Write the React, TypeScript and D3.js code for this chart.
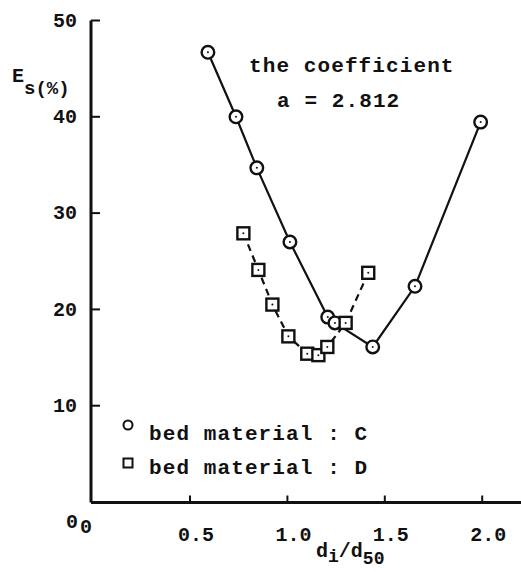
import React from "react";
import * as d3 from "d3";

const seriesCx = [0.592, 0.736, 0.843, 1.013, 1.207, 1.244, 1.438, 1.655, 1.992];
const seriesCy = [46.7, 40.0, 34.7, 27.0, 19.2, 18.6, 16.1, 22.4, 39.45];
const seriesDx = [0.774, 0.851, 0.923, 1.005, 1.102, 1.159, 1.205, 1.299, 1.415];
const seriesDy = [27.9, 24.1, 20.5, 17.2, 15.4, 15.25, 16.1, 18.6, 23.8];
const xTicks = [0.5, 1.0, 1.5, 2.0];
const xTickLabels = ["0.5", "1.0", "1.5", "2.0"];
const yTicks = [10, 20, 30, 40, 50];
const yTickLabels = ["10", "20", "30", "40", "50"];
const legendLabels = ["bed material : C", "bed material : D"];
const noteLines = ["the coefficient", "a = 2.812"];

const FONT = "'Liberation Mono', 'DejaVu Sans Mono', monospace";

export default function App() {
  const x = d3.scaleLinear().domain([0, 2]).range([92.6, 482.2]);
  const y = d3.scaleLinear().domain([0, 50]).range([502, 20.5]);
  const ptsC: [number, number][] = seriesCx.map((v, i) => [x(v), y(seriesCy[i])]);
  const ptsD: [number, number][] = seriesDx.map((v, i) => [x(v), y(seriesDy[i])]);
  const line = d3.line();
  const ax = 91;
  const ay = 502.5;
  const textStyle = { fontFamily: FONT, fontWeight: 700 as const, fill: "#111" };

  return (
    <div style={{ position: "absolute", left: 0, top: 0 }}>
      <svg width={521} height={572} style={{ display: "block", background: "#fff" }}>
        {/* axes */}
        <line x1={ax} y1={ay} x2={521} y2={ay} stroke="#111" strokeWidth={3} />
        <line x1={ax} y1={ay} x2={ax} y2={y(50)} stroke="#111" strokeWidth={3} />
        {yTicks.map((t, i) => (
          <g key={"yt" + i}>
            <line x1={ax} x2={ax + 9} y1={y(t)} y2={y(t)} stroke="#111" strokeWidth={2} />
            <text x={77} y={y(t) + 1} textAnchor="end" dominantBaseline="middle" fontSize={20} {...textStyle}>
              {yTickLabels[i]}
            </text>
          </g>
        ))}
        {xTicks.map((t, i) => (
          <g key={"xt" + i}>
            <line x1={x(t)} x2={x(t)} y1={ay} y2={ay - 7} stroke="#111" strokeWidth={2} />
            <text x={x(t) + 6} y={541} textAnchor="middle" fontSize={20} {...textStyle}>
              {xTickLabels[i]}
            </text>
          </g>
        ))}
        <text x={72} y={528} textAnchor="middle" fontSize={20} {...textStyle}>0</text>
        <text x={86} y={533} textAnchor="middle" fontSize={20} {...textStyle}>0</text>

        {/* axis titles */}
        <text x={12} y={82} fontSize={20} {...textStyle}>
          E
          <tspan dy={12} fontSize={19}>s(%)</tspan>
        </text>
        <text x={316} y={557} fontSize={20} {...textStyle}>
          d
          <tspan dy={5} fontSize={18}>i</tspan>
          <tspan dy={-5}>/d</tspan>
          <tspan dy={7} fontSize={18}>50</tspan>
        </text>

        {/* note */}
        <text x={249} y={72} fontSize={21} letterSpacing={1.1} {...textStyle}>{noteLines[0]}</text>
        <text x={277} y={107} fontSize={21} letterSpacing={1.1} {...textStyle}>{noteLines[1]}</text>

        {/* lines */}
        <path d={line(ptsC) || ""} fill="none" stroke="#111" strokeWidth={2.2} />
        <path d={line(ptsD) || ""} fill="none" stroke="#111" strokeWidth={2.2} strokeDasharray="7,5" />

        {/* markers */}
        {ptsC.map((p, i) => (
          <g key={"c" + i}>
            <circle cx={p[0]} cy={p[1]} r={6.3} fill="#fff" stroke="#111" strokeWidth={2.4} />
            <circle cx={p[0]} cy={p[1]} r={1} fill="#111" />
          </g>
        ))}
        {ptsD.map((p, i) => (
          <g key={"d" + i}>
            <rect x={p[0] - 6} y={p[1] - 6} width={12} height={12} fill="#fff" stroke="#111" strokeWidth={2.4} />
            <circle cx={p[0]} cy={p[1]} r={1} fill="#111" />
          </g>
        ))}

        {/* legend */}
        <circle cx={128} cy={425} r={4.5} fill="#fff" stroke="#111" strokeWidth={2} />
        <rect x={123.5} y={458.5} width={9} height={9} fill="#fff" stroke="#111" strokeWidth={2} />
        <text x={149} y={440} fontSize={21} letterSpacing={1.1} {...textStyle}>{legendLabels[0]}</text>
        <text x={149} y={474} fontSize={21} letterSpacing={1.1} {...textStyle}>{legendLabels[1]}</text>
      </svg>
    </div>
  );
}
